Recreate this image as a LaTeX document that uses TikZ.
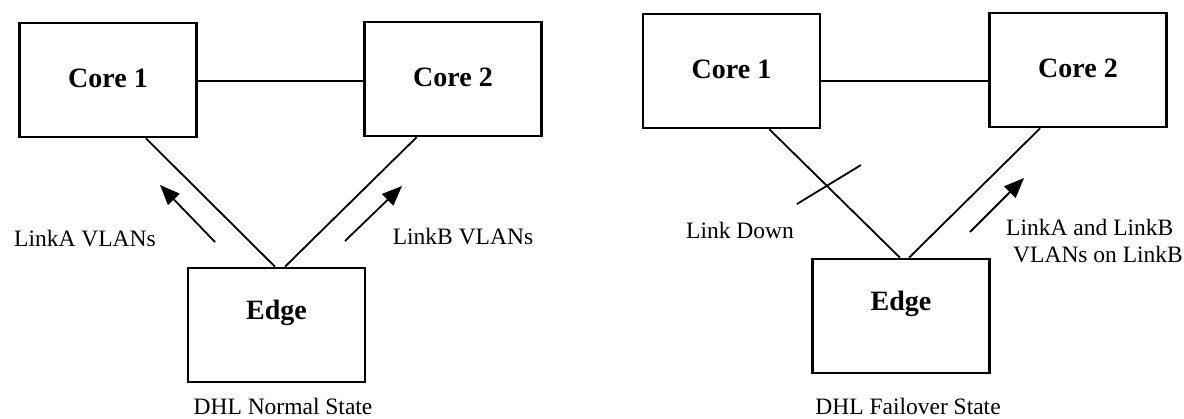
\documentclass[tikz,border=0pt]{standalone}
\usepackage{fontspec}
\setmainfont{Liberation Serif}
\usetikzlibrary{arrows.meta}
\begin{document}
\begin{tikzpicture}[x=1pt,y=-1pt,
  box/.style={draw, line width=2.6pt, minimum width=177pt, minimum height=114pt, inner sep=0pt},
  bold/.style={font=\fontsize{28}{32}\selectfont\bfseries},
  txt/.style={font=\fontsize{23.5}{27}\selectfont, inner sep=0pt},
  link/.style={line width=1.8pt},
  thin/.style={line width=1.3pt},
  flow/.style={line width=1.8pt, -{Triangle[length=20pt,width=16pt]}}]
\useasboundingbox (0,0) rectangle (1184,419);
% ---------- left: normal state ----------
\node[box, label={[bold,yshift=2pt]center:Core 1}] (c1) at (108,80) {};
\node[box, label={[bold,yshift=2pt]center:Core 2}] (c2) at (453,79) {};
\node[box, label={[bold,yshift=12pt]center:Edge}] (e1) at (276.5,325) {};
\draw[thin] ([yshift=-1pt]c1.east) -- ([yshift=-1pt]c1.east -| c2.west);
\draw[link] (c1.-57) -- ([xshift=-1.5pt]e1.north);
\draw[link] (c2.-122) -- ([xshift=8.5pt]e1.north);
\coordinate (a1s) at (215,242); \coordinate (a1e) at (160,185);
\coordinate (a2s) at (345,241); \coordinate (a2e) at (402,186);
\draw[flow] (a1s) -- (a1e);
\draw[flow] (a2s) -- (a2e);
\node[txt] (la) at (85,239) {LinkA VLANs};
\node[txt] (lb) at (463,237) {LinkB VLANs};
\node[txt] (t1) at (283,406) {DHL Normal State};
% ---------- right: failover state ----------
\node[box, label={[bold,yshift=2pt]center:Core 1}] (d1) at (731.5,71) {};
\node[box, label={[bold,yshift=2pt]center:Core 2}] (d2) at (1078,70) {};
\node[box, label={[bold,yshift=12pt]center:Edge}] (e2) at (901,316) {};
\draw[thin] ([yshift=-10pt]d1.east) -- ([yshift=-10pt]d1.east -| d2.west);
\draw[link] (d1.-57) -- ([xshift=-1pt]e2.north);
\draw[link] (d2.-123) -- ([xshift=8pt]e2.north);
\coordinate (x1) at (797,204); \coordinate (x2) at (861,165);
\draw[link] (x1) -- (x2);
\coordinate (a3s) at (970,232); \coordinate (a3e) at (1024,178);
\draw[flow] (a3s) -- (a3e);
\node[txt] (ld) at (740,230) {Link Down};
\node[txt, anchor=west, align=left] (lab) at (1006,241) {LinkA and LinkB\\\hspace{7pt}VLANs on LinkB};
\node[txt] (t2) at (908,406) {DHL Failover State};
\end{tikzpicture}
\end{document}
